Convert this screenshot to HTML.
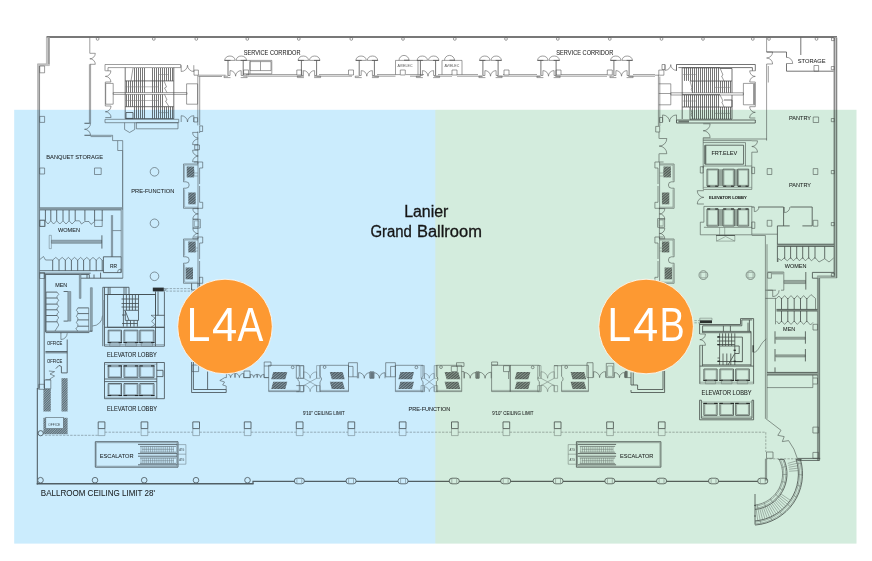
<!DOCTYPE html>
<html lang="en">
<head>
<meta charset="utf-8">
<title>Lanier Grand Ballroom Floor Plan</title>
<style>
html,body{margin:0;padding:0;background:#fff;}
body{width:872px;height:561px;overflow:hidden;position:relative;font-family:"Liberation Sans",sans-serif;}
svg{position:absolute;left:0;top:0;display:block;}
.t{fill:none;stroke:#5c5c5c;stroke-width:.6;}
.l{fill:none;stroke:#7c7c7c;stroke-width:.5;}
.m{fill:none;stroke:#505050;stroke-width:.8;}
.k{fill:none;stroke:#787878;stroke-width:2;}
.w{fill:#c4c4c4;stroke:#9a9a9a;stroke-width:.5;}
.d{fill:none;stroke:#808080;stroke-width:.55;stroke-dasharray:2.4 1.2;}
.h{fill:#808080;stroke:none;}
.g{fill:#b4b4b4;stroke:none;}
.tr{fill:none;stroke:#484848;stroke-width:.75;}
.wd{fill:none;stroke:#5a5a5a;stroke-width:1;}
.wb{fill:none;stroke:#666;stroke-width:1.6;}
.wc{fill:none;stroke:#666;stroke-width:1.3;}
.h2{fill:url(#ht2);stroke:none;}
.kk{fill:none;stroke:#2a2a2a;stroke-width:1.1;}
.bd{font-weight:bold;}
.b{fill:#333;stroke:none;}
.hp{fill:url(#ht);stroke:none;}
.tiny{font-family:"Liberation Sans",sans-serif;fill:#555;}
.lb{font-family:"Liberation Sans",sans-serif;fill:#262626;stroke:#262626;stroke-width:.06;}
.ov{mix-blend-mode:multiply;}
.big{font-family:"Liberation Sans",sans-serif;fill:#161616;stroke:#161616;stroke-width:.3;font-size:15.6px;}
.zone{font-family:"Liberation Sans",sans-serif;fill:#fff;}
</style>
</head>
<body>
<svg width="872" height="561" viewBox="0 0 872 561">
<rect x="0" y="0" width="872" height="561" fill="#fff"/>
<defs>
<pattern id="ht" width="2" height="2" patternUnits="userSpaceOnUse" patternTransform="rotate(-40)">
<rect x="0" y="0" width="2" height="2" fill="#a2a2a2"/>
<rect x="0" y="0" width="2" height=".95" fill="#5c5c5c"/>
</pattern>
<pattern id="ht2" width="1.7" height="1.7" patternUnits="userSpaceOnUse" patternTransform="rotate(-45)">
<rect x="0" y="0" width="1.7" height="1.7" fill="#b4b4b4"/>
<rect x="0" y="0" width="1.7" height=".8" fill="#707070"/>
</pattern>
</defs>
<g id="plan">
<path class="k" d="M46.5 37L837 37"/>
<path class="w" d="M46.4 37.5H49.4V65.6H39.6V389H37.5V63.8H46.4Z"/>
<path class="t" d="M48.9 38L48.9 64"/>
<path class="t" d="M39.3 66L39.3 388"/>
<path class="wd" d="M37.3 388L37.3 484.5"/>
<path class="wb" d="M36.7 483.8L253.6 483.8"/>
<path class="wc" d="M253 483.8V481.3H767"/>
<path class="w" d="M833.8 37.5H837V278H819.6V460.4H817.4V275.8H833.8Z"/>
<path class="t" d="M834.4 38L834.4 275"/>
<path class="t" d="M836.6 38L836.6 278"/>
<path class="t" d="M818 278L818 460"/>
<path class="t" d="M819.6 278L819.6 460"/>
<circle class="t" cx="97.6" cy="38.9" r="1.4"/>
<circle class="t" cx="153.8" cy="38.9" r="1.4"/>
<circle class="t" cx="196.3" cy="38.9" r="1.4"/>
<circle class="t" cx="247.3" cy="38.9" r="1.4"/>
<circle class="t" cx="298.8" cy="38.9" r="1.4"/>
<circle class="t" cx="351.3" cy="38.9" r="1.4"/>
<circle class="t" cx="403" cy="38.9" r="1.4"/>
<circle class="t" cx="454.8" cy="38.9" r="1.4"/>
<circle class="t" cx="506" cy="38.9" r="1.4"/>
<circle class="t" cx="557.8" cy="38.9" r="1.4"/>
<circle class="t" cx="609.8" cy="38.9" r="1.4"/>
<circle class="t" cx="661.5" cy="38.9" r="1.4"/>
<circle class="t" cx="703" cy="38.9" r="1.4"/>
<circle class="t" cx="752.8" cy="38.9" r="1.4"/>
<circle class="t" cx="769" cy="38.9" r="1.4"/>
<circle class="t" cx="816.5" cy="38.9" r="1.4"/>
<path class="t" d="M831.5 37.8H834.3V40.6H831.5Z"/>
<path class="t" d="M39.7 116.4H44.6V122.4H39.7Z"/>
<path class="t" d="M39.7 168H44.6V174H39.7Z"/>
<path class="t" d="M39.7 220.3H44.6V226.3H39.7Z"/>
<path class="t" d="M39.7 272.5H44.6V278.5H39.7Z"/>
<path class="t" d="M39.7 66H44.6V72.8H39.7Z"/>
<path class="t" d="M831.3 66.5H834.3V69.7H831.3Z"/>
<path class="t" d="M831.3 118.5H834.3V121.7H831.3Z"/>
<path class="t" d="M831.3 170.5H834.3V173.7H831.3Z"/>
<path class="t" d="M831.3 222.5H834.3V225.7H831.3Z"/>
<path class="t" d="M89.8 37.5V53.3"/>
<path class="t" d="M89.8 53.3h5.5A5.5 5.5 0 0 1 89.8 58.8A5.5 5.5 0 0 1 95.3 64.3H89.8"/>
<path class="t" d="M89.4 64.3V123.3H84.5M90.6 64.3V123.3"/>
<path class="t" d="M84.5 123.3h6.000000000000007A6.000000000000007 6.000000000000007 0 0 1 84.5 129.3A6.000000000000007 6.000000000000007 0 0 1 90.5 135.3H84.5"/>
<path class="t" d="M84.5 135.3H112.6V140.6H117.7M90.6 136.6H111.6"/>
<path class="t" d="M117.7 140.6H122.7V150.5H117.7Z"/>
<path class="m" d="M122.7 150.5V207.5"/>
<path class="t" d="M105.0 70.8V64.5H180.7V67.6H108.0V70.8"/>
<path class="t" d="M105.0 119.3H178.7V122.7H105.0Z"/>
<path class="t" d="M136.4 122.7H178.0V128.8H136.4Z"/>
<path class="t" d="M124.6 122.7V129.5L129.6 132.5L134.7 129.5V122.7"/>
<path class="t" d="M105.7 83.4H113.2V104.2H105.7Z"/>
<path class="t" d="M113.2 92.6H187.0V94.4H113.2Z"/>
<path class="t" d="M186.6 83.8H197.6V104.2H186.6Z"/>
<path class="m" d="M125.2 67.6V118.8M173.8 67.6V118.8M125.2 80.9H173.8M125.2 106.7H173.8M125.2 118.6H173.8"/>
<path class="tr" d="M134.5 68V80.9M136.5 68V80.9M138.5 68V80.9M140.5 68V80.9M142.5 68V80.9M144.5 68V80.9M152.5 68V80.9M154.5 68V80.9M156.5 68V80.9M158.5 68V80.9M160.5 68V80.9M162.5 68V80.9M164.5 68V80.9M166.5 68V80.9M168.5 68V80.9M170.5 68V80.9M172.5 68V80.9M126.5 80.9V92.6M128.5 80.9V92.6M130.5 80.9V92.6M132.5 80.9V92.6M134.5 80.9V92.6M136.5 80.9V92.6M138.5 80.9V92.6M140.5 80.9V92.6M142.5 80.9V92.6M144.5 80.9V92.6M152.5 80.9V92.6M154.5 80.9V92.6M156.5 80.9V92.6M158.5 80.9V92.6M160.5 80.9V92.6M162.5 80.9V92.6M126.5 94.4V106.7M128.5 94.4V106.7M130.5 94.4V106.7M132.5 94.4V106.7M134.5 94.4V106.7M136.5 94.4V106.7M138.5 94.4V106.7M140.5 94.4V106.7M142.5 94.4V106.7M144.5 94.4V106.7M152.5 94.4V106.7M154.5 94.4V106.7M156.5 94.4V106.7M158.5 94.4V106.7M160.5 94.4V106.7M162.5 94.4V106.7M134.5 106.7V118.6M136.5 106.7V118.6M138.5 106.7V118.6M140.5 106.7V118.6M142.5 106.7V118.6M144.5 106.7V118.6M152.5 106.7V118.6M154.5 106.7V118.6M156.5 106.7V118.6M158.5 106.7V118.6M160.5 106.7V118.6M162.5 106.7V118.6M164.5 106.7V118.6M166.5 106.7V118.6M168.5 106.7V118.6M170.5 106.7V118.6M172.5 106.7V118.6"/>
<path class="l" d="M159.0 74.5H168.0M125.2 86.8H158.0M125.2 100.5H158.0M159.0 112.6H168.0"/>
<path class="t" d="M133.0 68L131.0 80.9M164.0 80.9L166.5 87L164.5 88L167.0 92.6M164.5 94.4L167.0 100L165.5 101L169.0 106.7"/>
<path class="m" d="M126.0 112.5H133.0V118.4H126.0Z"/>
<path class="t" d="M105.3 70.8h5.600000000000001A5.600000000000001 5.600000000000001 0 0 1 105.3 76.4A5.600000000000001 5.600000000000001 0 0 1 110.9 82H105.3"/>
<path class="t" d="M105.3 106h5.75A5.75 5.75 0 0 1 105.3 111.75A5.75 5.75 0 0 1 111.05 117.5H105.3"/>
<path class="t" d="M105.3 82L105.3 106"/>
<path class="t" d="M181.2 65.2v6.300000000000011A6.300000000000011 6.300000000000011 0 0 0 187.5 65.2A6.300000000000011 6.300000000000011 0 0 0 193.8 71.50000000000001V65.2"/>
<path class="t" d="M194 70.1H198.4V75.2H194Z"/>
<path class="t" d="M181.2 122v-6.300000000000011A6.300000000000011 6.300000000000011 0 0 1 187.5 122A6.300000000000011 6.300000000000011 0 0 1 193.8 115.69999999999999V122"/>
<path class="t" d="M193.8 117.7H197.6V122H193.8Z"/>
<path class="t" d="M197.8 75.2V125.4M199.7 76.6V125.4"/>
<path class="t" d="M199.7 125.9H202.6V131.5H199.7Z"/>
<path class="t" d="M198.4 75.2H225.6M198.4 76.5H222M246 74.6H296.8M248 76.2H304M314 76.2H352M319 74.6H348M372 76.2H395.5M377 74.6H400M406 74.6H424M410 76.2H421M434 76.2H452M438 74.6H452M457 74.6H478M457 76.2H482M497 76.2H540M503 74.6H504M509 74.6H537M555 76.2H607M561 74.6H607M628 76.2H655M633 74.6H655"/>
<path class="t" d="M655 75.2H659"/>
<path class="t" d="M243.6 70H248.6V75H243.6Z"/>
<path class="t" d="M296.8 70H301.8V75H296.8Z"/>
<path class="t" d="M348.5 70H353.5V75H348.5Z"/>
<path class="t" d="M400.3 70H405.3V75H400.3Z"/>
<path class="t" d="M452 70H457V75H452Z"/>
<path class="t" d="M504 70H509V75H504Z"/>
<path class="t" d="M556 70H561V75H556Z"/>
<path class="t" d="M607.3 70H612.3V75H607.3Z"/>
<path class="m" d="M228.0 60.4V75.5M243.2 60.4V75.5"/>
<path class="t" d="M224.6 60.4A5.4 5.4 0 0 1 235.2 60.4ZM236.0 60.4A5.4 5.4 0 0 1 246.6 60.4Z"/>
<path class="m" d="M224.6 60.4H230.5M240.7 60.4H246.6"/>
<path class="t" d="M228.0 75.5H230.0V70.6A5.6 5.6 0 0 1 235.6 76.2A5.6 5.6 0 0 1 241.2 70.6V75.5H243.2"/>
<path class="t" d="M224.0 76.2H228.0M243.2 76.2H247.2M224.0 76.2V77.6H230.5M240.7 77.6H247.2V76.2"/>
<path class="m" d="M301.4 60.4V75.5M316.6 60.4V75.5"/>
<path class="t" d="M298.0 60.4A5.4 5.4 0 0 1 308.59999999999997 60.4ZM309.40000000000003 60.4A5.4 5.4 0 0 1 320.0 60.4Z"/>
<path class="m" d="M298.0 60.4H303.9M314.1 60.4H320.0"/>
<path class="t" d="M301.4 75.5H303.4V70.6A5.6 5.6 0 0 1 309 76.2A5.6 5.6 0 0 1 314.6 70.6V75.5H316.6"/>
<path class="t" d="M297.4 76.2H301.4M316.6 76.2H320.6M297.4 76.2V77.6H303.9M314.1 77.6H320.6V76.2"/>
<path class="m" d="M359.2 60.4V75.5M374.40000000000003 60.4V75.5"/>
<path class="t" d="M355.8 60.4A5.4 5.4 0 0 1 366.4 60.4ZM367.20000000000005 60.4A5.4 5.4 0 0 1 377.8 60.4Z"/>
<path class="m" d="M355.8 60.4H361.7M371.90000000000003 60.4H377.8"/>
<path class="t" d="M359.2 75.5H361.2V70.6A5.6 5.6 0 0 1 366.8 76.2A5.6 5.6 0 0 1 372.40000000000003 70.6V75.5H374.40000000000003"/>
<path class="t" d="M355.2 76.2H359.2M374.40000000000003 76.2H378.40000000000003M355.2 76.2V77.6H361.7M371.90000000000003 77.6H378.40000000000003V76.2"/>
<path class="m" d="M420.4 60.4V75.5M435.6 60.4V75.5"/>
<path class="t" d="M417.0 60.4A5.4 5.4 0 0 1 427.59999999999997 60.4ZM428.40000000000003 60.4A5.4 5.4 0 0 1 439.0 60.4Z"/>
<path class="m" d="M417.0 60.4H422.9M433.1 60.4H439.0"/>
<path class="t" d="M420.4 75.5H422.4V70.6A5.6 5.6 0 0 1 428 76.2A5.6 5.6 0 0 1 433.6 70.6V75.5H435.6"/>
<path class="t" d="M416.4 76.2H420.4M435.6 76.2H439.6M416.4 76.2V77.6H422.9M433.1 77.6H439.6V76.2"/>
<path class="m" d="M482.9 60.4V75.5M498.1 60.4V75.5"/>
<path class="t" d="M479.5 60.4A5.4 5.4 0 0 1 490.09999999999997 60.4ZM490.90000000000003 60.4A5.4 5.4 0 0 1 501.5 60.4Z"/>
<path class="m" d="M479.5 60.4H485.4M495.6 60.4H501.5"/>
<path class="t" d="M482.9 75.5H484.9V70.6A5.6 5.6 0 0 1 490.5 76.2A5.6 5.6 0 0 1 496.1 70.6V75.5H498.1"/>
<path class="t" d="M478.9 76.2H482.9M498.1 76.2H502.1M478.9 76.2V77.6H485.4M495.6 77.6H502.1V76.2"/>
<path class="m" d="M540.9 60.4V75.5M556.1 60.4V75.5"/>
<path class="t" d="M537.5 60.4A5.4 5.4 0 0 1 548.1 60.4ZM548.9 60.4A5.4 5.4 0 0 1 559.5 60.4Z"/>
<path class="m" d="M537.5 60.4H543.4M553.6 60.4H559.5"/>
<path class="t" d="M540.9 75.5H542.9V70.6A5.6 5.6 0 0 1 548.5 76.2A5.6 5.6 0 0 1 554.1 70.6V75.5H556.1"/>
<path class="t" d="M536.9 76.2H540.9M556.1 76.2H560.1M536.9 76.2V77.6H543.4M553.6 77.6H560.1V76.2"/>
<path class="m" d="M613.9 60.4V75.5M629.1 60.4V75.5"/>
<path class="t" d="M610.5 60.4A5.4 5.4 0 0 1 621.1 60.4ZM621.9 60.4A5.4 5.4 0 0 1 632.5 60.4Z"/>
<path class="m" d="M610.5 60.4H616.4M626.6 60.4H632.5"/>
<path class="t" d="M613.9 75.5H615.9V70.6A5.6 5.6 0 0 1 621.5 76.2A5.6 5.6 0 0 1 627.1 70.6V75.5H629.1"/>
<path class="t" d="M609.9 76.2H613.9M629.1 76.2H633.1M609.9 76.2V77.6H616.4M626.6 77.6H633.1V76.2"/>
<path class="t" d="M243.4 60.4H271.8V73.8H243.4"/>
<path class="t" d="M250 61.6H271V70.6H250ZM260.5 61.6V70.6M250 73.8V60.4"/>
<path class="t" d="M395.5 74.6V60.4H418V74.6"/>
<path class="t" d="M399 60.4A5 5 0 0 1 409 60.4"/>
<path class="m" d="M404 60.2L409.4 60.2"/>
<path class="t" d="M442 74.6V60.4H462V74.6"/>
<path class="t" d="M444.5 60.4A5 5 0 0 1 454.5 60.4"/>
<path class="m" d="M449.5 60.2L455 60.2"/>
<path class="m" d="M676.5 70.8V64.5H755.3V70.8M678.4 67.6H752.4V70.8"/>
<path class="m" d="M676.5 120H755.3V123H676.5Z"/>
<rect class="h" x="678.4" y="120.4" width="10.6" height="2.2"/>
<path class="t" d="M658.8 83.8H670.8V104.8H658.8M658.8 93.5H670.8"/>
<path class="t" d="M670.8 92.8H743.4V95H670.8Z"/>
<path class="t" d="M743.4 83.4H754.7V104.8H743.4Z"/>
<path class="m" d="M753.8 84L753.8 104.4"/>
<path class="m" d="M682.2 67.8H720M682.2 67.8V119M690 81H732V68.5H720M732 81V92.8M682.2 94.6H720M682.2 107H732M690 107V119.6M732 95V107M724 100H732V107M690 119.2H732V107"/>
<path class="tr" d="M684.5 68V80.9M686.5 68V80.9M688.5 68V80.9M690.5 68V80.9M692.5 68V80.9M694.5 68V80.9M696.5 68V80.9M698.5 68V80.9M700.5 68V80.9M702.5 68V80.9M704.5 68V80.9M706.5 68V80.9M708.5 68V80.9M710.5 68V80.9M712.5 68V80.9M714.5 68V80.9M716.5 68V80.9M718.5 68V80.9M692.5 81V92.8M694.5 81V92.8M696.5 81V92.8M698.5 81V92.8M700.5 81V92.8M702.5 81V92.8M704.5 81V92.8M706.5 81V92.8M708.5 81V92.8M710.5 81V92.8M712.5 81V92.8M714.5 81V92.8M716.5 81V92.8M718.5 81V92.8M720.5 81V92.8M722.5 81V92.8M724.5 81V92.8M726.5 81V92.8M728.5 81V92.8M730.5 81V92.8M684.5 95V107M686.5 95V107M688.5 95V107M690.5 95V107M692.5 95V107M694.5 95V107M696.5 95V107M698.5 95V107M700.5 95V107M702.5 95V107M704.5 95V107M706.5 95V107M708.5 95V107M710.5 95V107M712.5 95V107M714.5 95V107M716.5 95V107M718.5 95V107M692.5 107V119M694.5 107V119M696.5 107V119M698.5 107V119M700.5 107V119M702.5 107V119M704.5 107V119M706.5 107V119M708.5 107V119M710.5 107V119M712.5 107V119M714.5 107V119M716.5 107V119M718.5 107V119M720.5 107V119M722.5 107V119M724.5 107V119M726.5 107V119M728.5 107V119M730.5 107V119"/>
<path class="l" d="M683 74.5H697M715 87.4H731M683 101H697M715 113.4H731"/>
<path class="t" d="M720 68L723 75L721.6 76L724 81M690 81L692 88L691 89L693 92.8M720 95L723 101L721.8 102L724 107M690 107L692 113L691 114L693 119"/>
<path class="t" d="M755.3 70.8h-5.600000000000001A5.600000000000001 5.600000000000001 0 0 0 755.3 76.4A5.600000000000001 5.600000000000001 0 0 0 749.6999999999999 82H755.3"/>
<path class="t" d="M755.3 106.7h-5.649999999999999A5.649999999999999 5.649999999999999 0 0 0 755.3 112.35A5.649999999999999 5.649999999999999 0 0 0 749.65 118H755.3"/>
<path class="t" d="M755.3 82L755.3 106.7"/>
<path class="t" d="M665 64.6v5.75A5.75 5.75 0 0 0 670.75 64.6A5.75 5.75 0 0 0 676.5 70.35V64.6"/>
<path class="t" d="M662 64.5H665V69.5H662Z"/>
<path class="t" d="M658.8 70.1H663.9V75.2H658.8Z"/>
<path class="t" d="M662.6 121.9v-6.949999999999989A6.949999999999989 6.949999999999989 0 0 1 669.55 121.9A6.949999999999989 6.949999999999989 0 0 1 676.5 114.95000000000002V121.9"/>
<path class="t" d="M659.5 117.5H662.6V122.5H659.5Z"/>
<path class="t" d="M658.4 75.2V126M659.8 76.5V126"/>
<path class="t" d="M703.2 123.8h6.949999999999996A6.949999999999996 6.949999999999996 0 0 1 703.2 130.75A6.949999999999996 6.949999999999996 0 0 1 710.1500000000001 137.7H703.2"/>
<path class="t" d="M703.2 139H767M703.2 140.6H751.8M703.2 137.7V168"/>
<path class="t" d="M766.6 37.5V52"/>
<path class="t" d="M766.6 52h6.0A6.0 6.0 0 0 1 766.6 58.0A6.0 6.0 0 0 1 772.6 64H766.6"/>
<path class="t" d="M766.6 64V140.6M768.3 66V82.5"/>
<path class="m" d="M766.6 52H786.5V57.5M786.5 63.5V71.2H833.6M800.8 37.5V55"/>
<path class="t" d="M786.5 63.5h6.2A6.2 6.2 0 0 0 786.5 57.3"/>
<path class="t" d="M814 65.5H818.6V71.2H814Z"/>
<path class="t" d="M813.2 117H818.6V122.5H813.2Z"/>
<path class="m" d="M705.1 145.2H743.6V164.2H705.1Z"/>
<path class="k" d="M705.3 145.2L705.3 164.2"/>
<path class="t" d="M703.2 142.6H745.5V166M751.8 152.2V166"/>
<path class="t" d="M751.8 140.8h5.699999999999989A5.699999999999989 5.699999999999989 0 0 1 751.8 146.5A5.699999999999989 5.699999999999989 0 0 1 757.5 152.2H751.8"/>
<path class="t" d="M703.2 166H751.8V189.4H703.2Z"/>
<rect class="g" x="718.4" y="169.2" width="4.6" height="17.0"/>
<rect class="g" x="734.2" y="169.2" width="3.5" height="17.0"/>
<path class="m" d="M707 169.2H718.4V186.2H707Z"/>
<path class="l" d="M707.9 170.1H717.5V185.29999999999998H707.9Z"/>
<path class="kk" d="M707.3 186.2L710.2 186.2"/>
<path class="kk" d="M715.1999999999999 186.2L718.1 186.2"/>
<path class="m" d="M723 169.2H734.2V186.2H723Z"/>
<path class="l" d="M723.9 170.1H733.3000000000001V185.29999999999998H723.9Z"/>
<path class="kk" d="M723.3 186.2L726.2 186.2"/>
<path class="kk" d="M731.0 186.2L733.9000000000001 186.2"/>
<path class="m" d="M737.7 169.2H748.7V186.2H737.7Z"/>
<path class="l" d="M738.6 170.1H747.8000000000001V185.29999999999998H738.6Z"/>
<path class="kk" d="M738.0 186.2L740.9000000000001 186.2"/>
<path class="kk" d="M745.5 186.2L748.4000000000001 186.2"/>
<path class="t" d="M700.3 166.7H703.2V173H700.3Z"/>
<path class="t" d="M751.8 167.2H754.6V173.6H751.8Z"/>
<path class="l" d="M703.2 187.4L751.8 187.4"/>
<path class="t" d="M703.9 190.7h-6.650000000000006A6.650000000000006 6.650000000000006 0 0 0 703.9 197.35A6.650000000000006 6.650000000000006 0 0 0 697.25 204H703.9"/>
<path class="t" d="M703.9 206.4H751.8V234.8H700.3V222.2H703.9Z"/>
<rect class="g" x="718.4" y="209" width="4.6" height="17"/>
<rect class="g" x="734.2" y="209" width="3.5" height="17"/>
<path class="m" d="M707 209H718.4V226H707Z"/>
<path class="l" d="M707.9 209.9H717.5V225.1H707.9Z"/>
<path class="kk" d="M707.3 209L710.2 209"/>
<path class="kk" d="M715.1999999999999 209L718.1 209"/>
<path class="m" d="M723 209H734.2V226H723Z"/>
<path class="l" d="M723.9 209.9H733.3000000000001V225.1H723.9Z"/>
<path class="kk" d="M723.3 209L726.2 209"/>
<path class="kk" d="M731.0 209L733.9000000000001 209"/>
<path class="m" d="M737.7 209H748.7V226H737.7Z"/>
<path class="l" d="M738.6 209.9H747.8000000000001V225.1H738.6Z"/>
<path class="kk" d="M738.0 209L740.9000000000001 209"/>
<path class="kk" d="M745.5 209L748.4000000000001 209"/>
<path class="t" d="M703.9 227.3L751.8 227.3"/>
<path class="t" d="M751.8 222H754.8V228.4H751.8Z"/>
<path class="l" d="M719.6 227.3V235.5M724.7 227.3V235.5M716.5 235.5H734.8V241.1H716.5ZM716.5 241.1L725.6 236.5L734.8 241.1"/>
<path class="m" d="M716 235.5L735 235.5"/>
<path class="t" d="M767.2 168.6H771.8000000000001V174.5H767.2Z"/>
<path class="t" d="M813.2 168.6H817.8000000000001V174.5H813.2Z"/>
<path class="t" d="M767.2 220.3H771.8000000000001V226.20000000000002H767.2Z"/>
<path class="t" d="M813.2 220.3H817.8000000000001V226.20000000000002H813.2Z"/>
<path class="m" d="M751.8 207H754.3M758.2 207H783.6V225.9M777.4 225.9H789.7M790.4 207H812.2V225.9H802.4M777.4 225.9V262"/>
<path class="t" d="M754.3 207v4.6A4.6 4.6 0 0 0 758.9 207"/>
<path class="t" d="M784.3 207v5.6A5.6 5.6 0 0 0 789.9 207"/>
<path class="t" d="M751.8 234.2H777.4M751.8 235.5H765.4"/>
<path class="t" d="M765.4 235.5V418.8M767 244.2V418.8"/>
<rect class="g" x="777.4" y="244.2" width="56.6" height="2.2"/>
<path class="m" d="M777.4 244.2L834 244.2"/>
<path class="m" d="M777.4 246.4L834 246.4"/>
<path class="m" d="M784.7 246.4V258.7M790.6 246.4V258.7M796.7 246.4V258.7M802.7 246.4V258.7M808.7 246.4V258.7M815 246.4V258.7M824.7 246.4V258.7"/>
<path class="t" d="M778 262V258.5L781.4 260.5L784.7 257.5V258.7L787.4 260.8L790.6 257.5L793.4 260.8L796.7 257.5L799.4 260.8L802.7 257.5L805.4 260.8L808.7 257.5L811.4 260.8L815 257.5L819 262L824.7 258.7L829 262L833.6 258"/>
<path class="t" d="M767.7 272H783.8V290.2H781M772.7 290.2H767.7"/>
<rect class="g" x="772" y="272" width="11.4" height="2.4"/>
<path class="t" d="M767.7 272.6H771.4V278.2H767.7Z"/>
<path class="t" d="M772.7 290.2v6.4A6.4 6.4 0 0 0 779.1 290.2"/>
<rect class="g" x="784" y="280.4" width="21.5" height="3.2"/>
<path class="l" d="M784 280.4H805.5V283.6H784Z"/>
<path class="m" d="M805.8 272L805.8 289.6"/>
<path class="m" d="M812.4 272.4H834M812.4 272.4V278.2H817.5"/>
<path class="t" d="M831.4 273.4H834.5V276.4H831.4Z"/>
<path class="t" d="M765.4 290.2H776M765.4 298.4H776.5M775.5 298.4V324.3"/>
<rect class="g" x="776.5" y="309.4" width="41.0" height="1.6"/>
<path class="m" d="M776.5 309.4H817.5M776.5 311H817.5"/>
<path class="m" d="M781.5 298V309.4M781.5 311V322M787.8 298V309.4M787.8 311V322M794.2 298V309.4M794.2 311V322M800.5 298V309.4M800.5 311V322M806.8 298V309.4M806.8 311V322"/>
<path class="t" d="M776.5 298.4L779 296L781.5 299L784.6 295.6L787.8 299L791 295.6L794.2 299L797.3 295.6L800.5 299L803.6 295.6L806.8 299L811 294.6L815.5 298.4V309.4"/>
<path class="t" d="M776.5 321L779 324L781.5 321L784.6 324.4L787.8 321L791 324.4L794.2 321L797.3 324.4L800.5 321L803.6 324.4L806.8 321L810.5 325L813 322.4"/>
<path class="t" d="M813 324.3H817.6V330H813Z"/>
<rect class="g" x="775.8" y="337.1" width="29.4" height="2.2"/>
<path class="l" d="M775.8 337.1H805.2V339.3H775.8Z"/>
<path class="m" d="M775 331.3L775 343.70000000000005"/>
<path class="m" d="M805.4 331.3L805.4 343.70000000000005"/>
<rect class="g" x="775.8" y="354.8" width="29.4" height="2.2"/>
<path class="l" d="M775.8 354.8H805.2V357.0H775.8Z"/>
<path class="m" d="M775 349.0L775 361.40000000000003"/>
<path class="m" d="M805.4 349.0L805.4 361.40000000000003"/>
<path class="m" d="M775 367.4L775 372.4"/>
<rect class="g" x="767" y="372.4" width="50.6" height="2.6"/>
<path class="m" d="M767 372.4H817.6M767 375H817.6"/>
<path class="t" d="M767 387.6H812.8V375M813 378H817.5V384H813"/>
<path class="t" d="M94.5 168H101.2V174.5H94.5Z"/>
<circle class="t" cx="154.5" cy="171.8" r="4.3"/>
<circle class="t" cx="154.5" cy="223.3" r="4.3"/>
<circle class="t" cx="154.5" cy="276.3" r="4.3"/>
<rect class="g" x="39.8" y="207.8" width="82.9" height="2.2"/>
<path class="t" d="M39.8 207.8H122.7M39.8 210H121"/>
<path class="t" d="M121.2 210V256.8M122.8 207.5V278.2"/>
<path class="m" d="M45.4 210V220.8M50.8 210V220.8M56.7 210V220.8M63 210V220.8M69.1 210V220.8M75.2 210V220.8M84.9 210V220.8M94.6 210V220.8M102.2 210V220.8"/>
<path class="t" d="M39.8 220.2H45.1V226.5H39.8Z"/>
<path class="t" d="M94.6 220.2H102.2V226.5H94.6Z"/>
<path class="t" d="M45.4 221L48 224L50.8 220.8L53.6 224L56.7 220.8L59.8 224L63 220.8L66 224L69.1 220.8L72 224L75.2 220.8H79.5L81.5 224L84.9 221.5H89L91 224.4L94.6 221.5"/>
<rect class="g" x="51.4" y="240.2" width="50.2" height="3.1"/>
<path class="l" d="M51.4 240.2H101.6V243.3H51.4Z"/>
<path class="l" d="M49.2 235.3H51.4V248.6H49.2Z"/>
<path class="m" d="M101.9 235.3L101.9 248.6"/>
<path class="t" d="M111.4 215.1V256.8M112.6 215.1V256.8M112.6 230.6H121.2"/>
<path class="m" d="M52.7 260V270.7M59 260V270.7M65.3 260V270.7M71.4 260V270.7M77.7 260V270.7M83.6 260V270.7M89.9 260V270.7M96.2 260V270.7M102.2 260V270.7"/>
<path class="t" d="M39.8 259.5L43.5 256.5L45.5 260H52.7L55.8 257.4L59 260.2L62.2 257.4L65.3 260.2L68.4 257.4L71.4 260.2L74.5 257.4L77.7 260.2L80.6 257.4L83.6 260.2L86.8 257.4L89.9 260.2L93 257.4L96.2 260.2L99.2 257.4L102.2 260.2"/>
<path class="m" d="M103.4 256.8H121.2V272.6H103.4Z"/>
<path class="t" d="M121 272.6v-3.6A3.6 3.6 0 0 0 117.4 272.6"/>
<path class="m" d="M39.8 270.7H103.4M39.8 273.2H90.6M45.1 274.5H89.3V278.2M79.8 278.2H122.8M100.6 272.6V278.2M94 274.5V278.2M87 274.5V278.2"/>
<path class="m" d="M44.2 273.2V388M45.6 274.5V332"/>
<rect class="g" x="79.3" y="274.5" width="1.7" height="23.9"/>
<path class="l" d="M79.3 274.5H81V298.4H79.3Z"/>
<path class="m" d="M46.1 292.1H57.1M46.1 298H57.1M46.1 304.1H57.1M46.1 309.8H57.1M46.1 315.5H57.1M46.1 321.8H57.1"/>
<path class="t" d="M46.1 292.1V331.2M57.1 292.1L58.8 294.4L57.1 296.2V298L58.8 300.6L57.1 302.2V304.1L58.8 306.6L57.1 308V309.8L58.8 312.3L57.1 313.8V315.5L58.8 318L57.1 319.6V321.8L58.8 325L55 331"/>
<rect class="g" x="67.8" y="291.5" width="3.0" height="29.6"/>
<path class="l" d="M67.8 291.5H70.8V321.1H67.8Z"/>
<path class="m" d="M63.6 291.5H67.8M63.6 321.1H67.8"/>
<path class="m" d="M77.8 307.9H88.7M77.8 313.6H88.7M77.8 319.9H88.7M77.8 326.2H88.7"/>
<path class="t" d="M88.7 307.9V330.6M77.8 307.9L76.4 310.4L77.8 312V313.6L76.4 316.4L77.8 318V319.9L76.4 322.6L77.8 324.4V326.2L75.8 329L78 331.2"/>
<rect class="g" x="90.4" y="287.7" width="1.9" height="43.5"/>
<path class="l" d="M90.4 287.7H92.3V331.2H90.4Z"/>
<path class="t" d="M92.4 326A10.3 10.3 0 0 0 102.5 315.6"/>
<path class="m" d="M45.6 331.2H92.3M45.6 332.6H89.3"/>
<path class="m" d="M60.9 332.6V333.4M67.2 339.5V372.9H61.4V366.5L59 365.4L55.9 368.6M45.4 351.5H67.2M45.4 352.8H67.2"/>
<path class="t" d="M60.9 333.2v6.3A6.3 6.3 0 0 0 67.2 333.2"/>
<path class="t" d="M48.9 371L54.6 371.6L50 374L54.6 376L49.6 379.2M45.6 379.6H51"/>
<rect class="h2" x="61.5" y="378.2" width="6.1" height="33.3"/>
<rect class="h2" x="43.4" y="388.8" width="7.4" height="22.7"/>
<path class="t" d="M44.5 380H50.8V388.8H44.5Z"/>
<path class="t" d="M38.8 384.3H44.5V389.3H38.8Z"/>
<rect class="h2" x="43.4" y="417.8" width="24.2" height="16.4"/>
<rect x="45.8" y="417.4" width="17.6" height="11.2" fill="#fff" stroke="#6e6e6e" stroke-width=".6"/>
<circle class="m" cx="40.7" cy="433.2" r="2.6"/>
<path class="m" d="M102.8 287.3V346.2M104.5 287.3V346.2M102.8 287.3H129V294.5M108.2 287.3V294.5M110 287.3V294.5M124 287.3V294.5M126 287.3V294.5"/>
<rect class="g" x="102.6" y="300" width="1.4" height="25"/>
<path class="m" d="M107.6 294.5H155.5V327.3H107.6Z"/>
<path class="m" d="M104.5 294.5L155.5 294.5"/>
<path class="m" d="M123.4 295V310.3M126.4 295V310.3M129.4 295V310.3M132.4 295V310.3M135.4 295V310.3M138.5 295V310.3M121.5 299H138.5M121.5 303.5H138.5M121.5 307H138.5"/>
<path class="m" d="M123.4 310.3H138.5V320.4H125.3V311M123.4 310.3V326.7M127 320.4V326.7M130.5 320.4V326.7M134 320.4V326.7M137.4 320.4V326.7M122 315H125.3M122 323.5H137.4M125.3 311L129 320.4"/>
<rect class="b" x="152.8" y="287.6" width="11.0" height="3.8"/>
<circle class="t" cx="164.9" cy="289.5" r="1"/>
<path class="d" d="M166 288.6H192.1M166 291.1H192.1"/>
<path class="m" d="M155.5 291.4V315.3M158 291.4V315.3M164.4 291.4V346.2M155.5 315.3H164.4M155.5 327.3H164.4"/>
<path class="t" d="M155.5 315.3H151L155 318L151.6 321.3L155 324.6L151 327.3"/>
<path class="m" d="M104.5 327.3H164.4M104.5 346.2H164.4M155.5 327.3V346.2"/>
<path class="m" d="M108.2 330.2H121.5V342.6H108.2Z"/>
<path class="l" d="M109.10000000000001 331.09999999999997H120.6V341.70000000000005H109.10000000000001Z"/>
<path class="kk" d="M107.60000000000001 342.6L111.2 342.6"/>
<path class="kk" d="M118.5 342.6L122.1 342.6"/>
<path class="l" d="M109.7 343.2H120.0V346.2H109.7Z"/>
<path class="m" d="M124 330.2H137.9V342.6H124Z"/>
<path class="l" d="M124.9 331.09999999999997H137.0V341.70000000000005H124.9Z"/>
<path class="kk" d="M123.4 342.6L127 342.6"/>
<path class="kk" d="M134.9 342.6L138.5 342.6"/>
<path class="l" d="M125.5 343.2H136.4V346.2H125.5Z"/>
<path class="m" d="M139.8 330.2H154V342.6H139.8Z"/>
<path class="l" d="M140.70000000000002 331.09999999999997H153.1V341.70000000000005H140.70000000000002Z"/>
<path class="kk" d="M139.20000000000002 342.6L142.8 342.6"/>
<path class="kk" d="M151 342.6L154.6 342.6"/>
<path class="l" d="M141.3 343.2H152.5V346.2H141.3Z"/>
<path class="l" d="M104.5 344.6L164.4 344.6"/>
<path class="m" d="M104.5 362.5H164.4V398.7H104.5Z"/>
<path class="m" d="M108.2 365.9H121.5V377.6H108.2Z"/>
<path class="l" d="M109.10000000000001 366.79999999999995H120.6V376.70000000000005H109.10000000000001Z"/>
<path class="kk" d="M107.60000000000001 365.9L111.2 365.9"/>
<path class="kk" d="M118.5 365.9L122.1 365.9"/>
<path class="m" d="M108.2 383.5H121.5V395.5H108.2Z"/>
<path class="l" d="M109.10000000000001 384.4H120.6V394.6H109.10000000000001Z"/>
<path class="kk" d="M107.60000000000001 395.5L111.2 395.5"/>
<path class="kk" d="M118.5 395.5L122.1 395.5"/>
<path class="m" d="M124 365.9H137.9V377.6H124Z"/>
<path class="l" d="M124.9 366.79999999999995H137.0V376.70000000000005H124.9Z"/>
<path class="kk" d="M123.4 365.9L127 365.9"/>
<path class="kk" d="M134.9 365.9L138.5 365.9"/>
<path class="m" d="M124 383.5H137.9V395.5H124Z"/>
<path class="l" d="M124.9 384.4H137.0V394.6H124.9Z"/>
<path class="kk" d="M123.4 395.5L127 395.5"/>
<path class="kk" d="M134.9 395.5L138.5 395.5"/>
<path class="m" d="M139.8 365.9H154V377.6H139.8Z"/>
<path class="l" d="M140.70000000000002 366.79999999999995H153.1V376.70000000000005H140.70000000000002Z"/>
<path class="kk" d="M139.20000000000002 365.9L142.8 365.9"/>
<path class="kk" d="M151 365.9L154.6 365.9"/>
<path class="m" d="M139.8 383.5H154V395.5H139.8Z"/>
<path class="l" d="M140.70000000000002 384.4H153.1V394.6H140.70000000000002Z"/>
<path class="kk" d="M139.20000000000002 395.5L142.8 395.5"/>
<path class="kk" d="M151 395.5L154.6 395.5"/>
<path class="m" d="M104.5 379H156.8M104.5 381.6H156.8M156.8 362.5V398.7M156.8 370.3H163V376.6H156.8"/>
<path class="l" d="M104.5 364.2L156.8 364.2"/>
<path class="l" d="M104.5 397.2L156.8 397.2"/>
<rect class="b" x="699.8" y="320.3" width="12.2" height="2.9"/>
<path class="l" d="M699.8 318.2H712V320.3H699.8Z"/>
<path class="d" d="M694.4 320.6H699.8M694.4 322.8H699.8"/>
<path class="m" d="M699.6 323.2V334M702.6 325.8V332.7M699.6 324.5H740.5V318.6H753.6V383.8M702.6 325.8H741.8V319.9H752.2M748 322.6V331.4M749.4 319.9V331.4M723.4 325.8V331.4M730.4 325.8V331.4"/>
<path class="t" d="M699.8 334h5.650000000000006A5.650000000000006 5.650000000000006 0 0 1 699.8 339.65A5.650000000000006 5.650000000000006 0 0 1 705.4499999999999 345.3H699.8"/>
<path class="m" d="M699.8 345.3V383.8M702.4 345.3V366.1M702.4 331.4H751M702.4 332.7H751M751 331.4V366.1M702.4 364.9H751M699.8 366.1H753.6"/>
<path class="m" d="M719.6 333.3V346M722.6 333.3V346M725.6 333.3V346M728.6 333.3V346M731.6 333.3V346M734.8 333.3V346M717 337.1H734.8M717 341H734.8M717 344.5H734.8"/>
<path class="m" d="M734.8 337.1H742.4V361.7H734.8M719.6 346H739.2V353.5H734.8M719.6 346V365M734.8 346V365M723 353.5V365M726.8 353.5V365M730.8 353.5V365M717.5 358H719.6M717.5 361.5H742.4M734.8 353.5L728 365"/>
<rect class="b" x="717.5" y="336.2" width="2.3" height="1.4"/>
<rect class="b" x="717.5" y="344" width="2.3" height="1.4"/>
<rect class="b" x="717.5" y="360.6" width="2.3" height="1.4"/>
<rect class="b" x="733.6" y="349.6" width="2.2" height="1.4"/>
<rect class="b" x="733.6" y="360.6" width="2.2" height="1.4"/>
<path class="m" d="M703.9 369H717.1V380.4H703.9Z"/>
<path class="l" d="M704.8 369.9H716.2V379.5H704.8Z"/>
<path class="kk" d="M703.3 380.4L706.9 380.4"/>
<path class="kk" d="M714.1 380.4L717.7 380.4"/>
<path class="l" d="M705.4 381H715.6V383.8H705.4Z"/>
<path class="m" d="M719.9 369H733.5V380.4H719.9Z"/>
<path class="l" d="M720.8 369.9H732.6V379.5H720.8Z"/>
<path class="kk" d="M719.3 380.4L722.9 380.4"/>
<path class="kk" d="M730.5 380.4L734.1 380.4"/>
<path class="l" d="M721.4 381H732.0V383.8H721.4Z"/>
<path class="m" d="M735.7 369H749.3V380.4H735.7Z"/>
<path class="l" d="M736.6 369.9H748.4V379.5H736.6Z"/>
<path class="kk" d="M735.1 380.4L738.7 380.4"/>
<path class="kk" d="M746.3 380.4L749.9 380.4"/>
<path class="l" d="M737.2 381H747.8V383.8H737.2Z"/>
<path class="l" d="M699.8 383.8H753.6M699.8 382.2H753.6"/>
<path class="kk" d="M753.1 345.3L753.1 352.3"/>
<path class="t" d="M753.7 352.4C759 352 760 343 766.3 339"/>
<path class="m" d="M699.6 400.2V419.8H753.6V400.2M701.4 400.2V418.2H752V400.2M699.6 400.2H701.4M752 400.2H753.6"/>
<path class="m" d="M703.9 403.4H717.1V415.4H703.9Z"/>
<path class="l" d="M704.8 404.29999999999995H716.2V414.5H704.8Z"/>
<path class="kk" d="M703.3 403.4L706.9 403.4"/>
<path class="kk" d="M714.1 403.4L717.7 403.4"/>
<path class="m" d="M719.9 403.4H733.5V415.4H719.9Z"/>
<path class="l" d="M720.8 404.29999999999995H732.6V414.5H720.8Z"/>
<path class="kk" d="M719.3 403.4L722.9 403.4"/>
<path class="kk" d="M730.5 403.4L734.1 403.4"/>
<path class="m" d="M735.7 403.4H749.3V415.4H735.7Z"/>
<path class="l" d="M736.6 404.29999999999995H748.4V414.5H736.6Z"/>
<path class="kk" d="M735.1 403.4L738.7 403.4"/>
<path class="kk" d="M746.3 403.4L749.9 403.4"/>
<path class="l" d="M701.4 416.8L752 416.8"/>
<path class="l" d="M701.4 402L752 402"/>
<path class="t" d="M197.8 131.5V164M199.6 131.5V133"/>
<path class="t" d="M198.2 132.4h-5.6A5.6 5.6 0 0 0 198.2 138.0"/>
<path class="t" d="M198.2 144.6h-5.6A5.6 5.6 0 0 1 198.2 139.0"/>
<path class="t" d="M194.7 145H199.5V149.7H194.7Z"/>
<path class="t" d="M198.2 150.2h-5.6A5.6 5.6 0 0 0 198.2 155.79999999999998"/>
<path class="t" d="M198.2 161.8h-5.6A5.6 5.6 0 0 1 198.2 156.20000000000002"/>
<path class="t" d="M198 164H183.5V181.8H186A3.2 3.2 0 0 1 186 188.2H183.5V208.3H198"/>
<path class="l" d="M198 165.1H184.6V180.70000000000002M184.6 189.29999999999998V207.20000000000002H198"/>
<path class="t" d="M198 162V209.3M199.6 168V184M199.6 186V202.3M199.6 168H202.7V162H194M199.6 202.3H202.7V208.3H198"/>
<path class="l" d="M194 170V176H198M194 173H198"/>
<path class="hp" d="M186.7 166.5H194.1L194.1 177.4H186.7Z"/>
<path class="hp" d="M188.3 192.5H195.7L195.7 204.3H188.3Z"/>
<path class="t" d="M198.2 208.6h-5.4A5.4 5.4 0 0 0 198.2 214.0"/>
<path class="t" d="M198.2 219.2h-5.4A5.4 5.4 0 0 1 198.2 213.79999999999998"/>
<path class="t" d="M193 219.3H200.3V228H193Z"/>
<path class="l" d="M194.4 220.8H198.9V226.5H194.4Z"/>
<path class="t" d="M198.2 228.2h-5.4A5.4 5.4 0 0 0 198.2 233.6"/>
<path class="t" d="M198.2 238.8h-5.4A5.4 5.4 0 0 1 198.2 233.4"/>
<path class="t" d="M198 208L198 239"/>
<path class="t" d="M198 239H183.5V256.8H186A3.2 3.2 0 0 1 186 263.2H183.5V283.3H198"/>
<path class="l" d="M198 240.1H184.6V255.70000000000002M184.6 264.3V282.2H198"/>
<path class="t" d="M198 237V284.3M199.6 243V259M199.6 261V277.3M199.6 243H202.7V237H194M199.6 277.3H202.7V283.3H198"/>
<path class="l" d="M194 245V251H198M194 248H198"/>
<path class="hp" d="M188.3 241.5H195.7L195.7 252.4H188.3Z"/>
<path class="hp" d="M185.6 267.5H193.0L193.0 279.3H185.6Z"/>
<path class="m" d="M198 283.3V290M199.6 277V290M191.6 283.3V290M191.6 290H199.6"/>
<path class="t" d="M655.7 126.4H659.7V132H655.7Z"/>
<path class="t" d="M659 132V138.5"/>
<path class="t" d="M659.2 138.5h7.599999999999994A7.599999999999994 7.599999999999994 0 0 1 659.2 146.1A7.599999999999994 7.599999999999994 0 0 1 666.8000000000001 153.7H659.2"/>
<path class="t" d="M659 153.7V162"/>
<path class="t" d="M659.6 164H674.1V181.8H671.6A3.2 3.2 0 0 0 671.6 188.2H674.1V208.3H659.6"/>
<path class="l" d="M659.6 165.1H673.0V180.70000000000002M673.0 189.29999999999998V207.20000000000002H659.6"/>
<path class="t" d="M659.6 162V209.3M658.0 168V184M658.0 186V202.3M658.0 168H654.9V162H663.6M658.0 202.3H654.9V208.3H659.6"/>
<path class="l" d="M663.6 170V176H659.6M663.6 173H659.6"/>
<path class="hp" d="M663.5 166.5H670.9L670.9 177.4H663.5Z"/>
<path class="hp" d="M661.9 192.5H669.3L669.3 204.3H661.9Z"/>
<path class="t" d="M659.4 208.6h5.4A5.4 5.4 0 0 1 659.4 214.0"/>
<path class="t" d="M659.4 219.2h5.4A5.4 5.4 0 0 0 659.4 213.79999999999998"/>
<path class="t" d="M657.6 218.6H664.6V227.3H657.6Z"/>
<path class="l" d="M659 220H663.2V225.9H659Z"/>
<path class="t" d="M659.4 228.2h5.4A5.4 5.4 0 0 1 659.4 233.6"/>
<path class="t" d="M659.4 238.8h5.4A5.4 5.4 0 0 0 659.4 233.4"/>
<path class="t" d="M659.4 208L659.4 239"/>
<path class="t" d="M659.6 239H674.1V256.8H671.6A3.2 3.2 0 0 0 671.6 263.2H674.1V283.3H659.6"/>
<path class="l" d="M659.6 240.1H673.0V255.70000000000002M673.0 264.3V282.2H659.6"/>
<path class="t" d="M659.6 237V284.3M658.0 243V259M658.0 261V277.3M658.0 243H654.9V237H663.6M658.0 277.3H654.9V283.3H659.6"/>
<path class="l" d="M663.6 245V251H659.6M663.6 248H659.6"/>
<path class="hp" d="M661.9 241.5H669.3L669.3 252.4H661.9Z"/>
<path class="hp" d="M664.6 267.5H672.0L672.0 279.3H664.6Z"/>
<path class="t" d="M659.4 283.3V290M665.8 283.3V290"/>
<path class="m" d="M191.6 362V392.5H226.2V389.5H193.4V362M207.6 371.6V389.5"/>
<path class="t" d="M192 365H198.6V371.6H192Z"/>
<path class="t" d="M226.2 389.5V386L222.6 385L224.6 382L219.8 380.5L224.7 377.6"/>
<path class="t" d="M224.7 377.6H226.4M243.6 377.6H250.4M264 377.6H268.7"/>
<path class="t" d="M226.4 377.6v-4.200000000000003A4.200000000000003 4.200000000000003 0 0 1 230.60000000000002 377.6A4.200000000000003 4.200000000000003 0 0 1 234.8 373.40000000000003V377.6"/>
<path class="t" d="M235.2 377.6v-4.200000000000003A4.200000000000003 4.200000000000003 0 0 1 239.39999999999998 377.6A4.200000000000003 4.200000000000003 0 0 1 243.6 373.40000000000003V377.6"/>
<path class="t" d="M244 371H250V377.6H244Z"/>
<path class="t" d="M250.4 377.6v-3.299999999999997A3.299999999999997 3.299999999999997 0 0 1 253.7 377.6A3.299999999999997 3.299999999999997 0 0 1 257 374.3V377.6"/>
<path class="t" d="M257.4 377.6v-3.3000000000000114A3.3000000000000114 3.3000000000000114 0 0 1 260.7 377.6A3.3000000000000114 3.3000000000000114 0 0 1 264 374.3V377.6"/>
<path class="t" d="M264.2 362H271V366H264.2Z"/>
<path class="t" d="M264.2 366V377.6H268.7"/>
<path class="t" d="M299.3 365.3H268.7V391.6H299.3M299.3 365.3V376.4M299.3 381.6V391.6"/>
<path class="t" d="M299.3 376.4A3 3 0 0 0 299.3 381.6"/>
<circle class="t" cx="292.7" cy="367.3" r="1.4"/>
<path class="l" d="M268.7 390.40000000000003L299.3 390.40000000000003"/>
<path class="hp" d="M273.2 372H287.3L285.3 379.2H271.2Z"/>
<path class="hp" d="M273.2 381.7H287.3L285.3 389H271.2Z"/>
<path class="t" d="M296.3 365.7H303.7V378.3H296.3ZM296.3 385.6H303.7V391.7H296.3"/>
<path class="l" d="M300.3 365.6H303.7V378.3H300.3Z"/>
<path class="l" d="M316.6 365.6H320V378.3H316.6Z"/>
<path class="l" d="M300.3 385.6H303.7V391.7H300.3Z"/>
<path class="l" d="M316.6 385.6H320V391.7H316.6Z"/>
<path class="l" d="M303.7 378.3v-6.450000000000017A6.450000000000017 6.450000000000017 0 0 1 310.15 378.3A6.450000000000017 6.450000000000017 0 0 1 316.6 371.85V378.3"/>
<path class="l" d="M303.7 391.7v-6.450000000000017A6.450000000000017 6.450000000000017 0 0 1 310.15 391.7A6.450000000000017 6.450000000000017 0 0 1 316.6 385.25V391.7"/>
<path class="l" d="M303.7 378.3L310.15 381.8L316.6 378.3M303.7 385.6L310.15 382L316.6 385.6"/>
<path class="t" d="M320 365.3H348.5V391.6H320M320 365.3V376.4M320 381.6V391.6"/>
<path class="t" d="M320 376.4A3 3 0 0 1 320 381.6"/>
<circle class="t" cx="324.6" cy="367.1" r="1.4"/>
<path class="l" d="M320 390.40000000000003L348.5 390.40000000000003"/>
<path class="hp" d="M329.8 372H342.7L344.7 379.2H331.8Z"/>
<path class="hp" d="M329.8 381.7H342.7L344.7 389H331.8Z"/>
<path class="t" d="M348.5 362.7H357.4V376.8H348.5Z"/>
<path class="t" d="M348.5 366.4H353V376.8M357.4 376.8V378.3"/>
<path class="t" d="M358.6 378.3v-5.699999999999989A5.699999999999989 5.699999999999989 0 0 1 364.3 378.3A5.699999999999989 5.699999999999989 0 0 1 370 372.6V378.3"/>
<path class="t" d="M373.8 378.3v-5.599999999999994A5.599999999999994 5.599999999999994 0 0 1 379.4 378.3A5.599999999999994 5.599999999999994 0 0 1 385 372.70000000000005V378.3"/>
<rect class="h" x="370.4" y="372.1" width="3.0" height="6.2"/>
<path class="t" d="M370 371.7H373.8V378.3H370Z"/>
<path class="t" d="M385.7 362.7H395.4V376.8H385.7Z"/>
<path class="t" d="M395.4 366.4H390.6V376.8"/>
<path class="t" d="M423 365.3H395.4V391.6H423M423 365.3V376.4M423 381.6V391.6"/>
<path class="t" d="M423 376.4A3 3 0 0 0 423 381.6"/>
<circle class="t" cx="416.4" cy="367.3" r="1.4"/>
<path class="l" d="M395.4 390.40000000000003L423 390.40000000000003"/>
<path class="hp" d="M400.4 372H414L412 379.2H398.4Z"/>
<path class="hp" d="M400.4 381.7H414L412 389H398.4Z"/>
<path class="l" d="M421 365.6H424.4V378.3H421Z"/>
<path class="l" d="M434.20000000000005 365.6H437.6V378.3H434.20000000000005Z"/>
<path class="l" d="M421 385.6H424.4V391.7H421Z"/>
<path class="l" d="M434.20000000000005 385.6H437.6V391.7H434.20000000000005Z"/>
<path class="l" d="M424.4 378.3v-4.900000000000034A4.900000000000034 4.900000000000034 0 0 1 429.3 378.3A4.900000000000034 4.900000000000034 0 0 1 434.20000000000005 373.4V378.3"/>
<path class="l" d="M424.4 391.7v-4.900000000000034A4.900000000000034 4.900000000000034 0 0 1 429.3 391.7A4.900000000000034 4.900000000000034 0 0 1 434.20000000000005 386.79999999999995V391.7"/>
<path class="l" d="M424.4 378.3L429.3 381.8L434.20000000000005 378.3M424.4 385.6L429.3 382L434.20000000000005 385.6"/>
<path class="t" d="M436.4 365.3H461.7V391.6H436.4M436.4 365.3V376.4M436.4 381.6V391.6"/>
<path class="t" d="M436.4 376.4A3 3 0 0 1 436.4 381.6"/>
<circle class="t" cx="441.0" cy="367.1" r="1.4"/>
<path class="l" d="M436.4 390.40000000000003L461.7 390.40000000000003"/>
<path class="hp" d="M444.6 372H458.3L460.3 379.2H446.6Z"/>
<path class="hp" d="M444.6 381.7H458.3L460.3 389H446.6Z"/>
<path class="t" d="M456.5 362.7H464V366.4H456.5Z"/>
<path class="t" d="M451.3 366.4H457.3V371.6H451.3Z"/>
<path class="t" d="M461.7 371.6H464V378.3"/>
<path class="t" d="M464.4 378.3v-5.800000000000011A5.800000000000011 5.800000000000011 0 0 1 470.2 378.3A5.800000000000011 5.800000000000011 0 0 1 476 372.5V378.3"/>
<path class="t" d="M479 378.3v-6.099999999999994A6.099999999999994 6.099999999999994 0 0 1 485.1 378.3A6.099999999999994 6.099999999999994 0 0 1 491.2 372.20000000000005V378.3"/>
<rect class="h" x="476.4" y="372.1" width="2.2" height="6.2"/>
<path class="t" d="M476 371.7H479V378.3H476Z"/>
<path class="t" d="M491.6 362H497.6V365H491.6Z"/>
<path class="t" d="M539.3 365.3H491.6V391.6H539.3M539.3 365.3V376.4M539.3 381.6V391.6"/>
<path class="t" d="M539.3 376.4A3 3 0 0 0 539.3 381.6"/>
<circle class="t" cx="532.6999999999999" cy="367.3" r="1.4"/>
<path class="l" d="M491.6 390.40000000000003L539.3 390.40000000000003"/>
<path class="hp" d="M516.7 372H530.3L528.3 379.2H514.7Z"/>
<path class="hp" d="M516.7 381.7H530.3L528.3 389H514.7Z"/>
<path class="m" d="M510.2 365L510.2 391.7"/>
<path class="t" d="M503.5 365.7H509.4V371.6H503.5Z"/>
<path class="t" d="M508.6 371.6L508.6 379"/>
<path class="l" d="M537.6 365.6H541.0V378.3H537.6Z"/>
<path class="l" d="M554.2 365.6H557.6V378.3H554.2Z"/>
<path class="l" d="M537.6 385.6H541.0V391.7H537.6Z"/>
<path class="l" d="M554.2 385.6H557.6V391.7H554.2Z"/>
<path class="l" d="M541.0 378.3v-6.600000000000023A6.600000000000023 6.600000000000023 0 0 1 547.6 378.3A6.600000000000023 6.600000000000023 0 0 1 554.2 371.7V378.3"/>
<path class="l" d="M541.0 391.7v-6.600000000000023A6.600000000000023 6.600000000000023 0 0 1 547.6 391.7A6.600000000000023 6.600000000000023 0 0 1 554.2 385.09999999999997V391.7"/>
<path class="l" d="M541.0 378.3L547.6 381.8L554.2 378.3M541.0 385.6L547.6 382L554.2 385.6"/>
<path class="t" d="M561.6 365.3H588.4V391.6H561.6M561.6 365.3V376.4M561.6 381.6V391.6"/>
<path class="t" d="M561.6 376.4A3 3 0 0 1 561.6 381.6"/>
<circle class="t" cx="566.2" cy="367.1" r="1.4"/>
<path class="l" d="M561.6 390.40000000000003L588.4 390.40000000000003"/>
<path class="hp" d="M570.6 372H584.2L586.2 379.2H572.6Z"/>
<path class="hp" d="M570.6 381.7H584.2L586.2 389H572.6Z"/>
<path class="t" d="M554 365.7H561.6"/>
<path class="t" d="M587 362.7H593V377.6H587Z"/>
<path class="t" d="M593.6 377.6v-6.0A6.0 6.0 0 0 1 599.6 377.6A6.0 6.0 0 0 1 605.6 371.6V377.6"/>
<path class="t" d="M606.3 363.4H613.8V377.6H606.3Z"/>
<path class="l" d="M607.6 366H612.6V376.4H607.6Z"/>
<path class="t" d="M614.4 377.6v-5.100000000000023A5.100000000000023 5.100000000000023 0 0 1 619.5 377.6A5.100000000000023 5.100000000000023 0 0 1 624.6 372.5V377.6"/>
<rect class="h" x="625" y="371.4" width="2.2" height="6.2"/>
<path class="t" d="M625 371.4H627.2V377.6H625Z"/>
<path class="t" d="M627.2 377.6H631"/>
<path class="m" d="M631 372.4V385M631 390V392.5H664.6V370.9M633.2 372.4V385M637.6 389.5H663V370.9M631 385H637.6V389.5"/>
<path class="d" d="M45 435.3H98.2"/>
<path class="m" d="M98.2 421.9H104.9V428.6H98.2Z"/>
<path class="l" d="M98.2 428.6V435.6H104.9V428.6"/>
<path class="m" d="M141.1 421.9H147.79999999999998V428.6H141.1Z"/>
<path class="l" d="M141.1 428.6V435.6H147.79999999999998V428.6"/>
<path class="m" d="M192.8 421.9H199.5V428.6H192.8Z"/>
<path class="l" d="M192.8 428.6V435.6H199.5V428.6"/>
<path class="m" d="M244.3 421.9H251.0V428.6H244.3Z"/>
<path class="l" d="M244.3 428.6V435.6H251.0V428.6"/>
<path class="m" d="M296.3 421.9H303.0V428.6H296.3Z"/>
<path class="l" d="M296.3 428.6V435.6H303.0V428.6"/>
<path class="m" d="M348 421.9H354.7V428.6H348Z"/>
<path class="l" d="M348 428.6V435.6H354.7V428.6"/>
<path class="m" d="M399.3 421.9H406.0V428.6H399.3Z"/>
<path class="l" d="M399.3 428.6V435.6H406.0V428.6"/>
<path class="m" d="M451.5 421.9H458.2V428.6H451.5Z"/>
<path class="l" d="M451.5 428.6V435.6H458.2V428.6"/>
<path class="m" d="M503 421.9H509.7V428.6H503Z"/>
<path class="l" d="M503 428.6V435.6H509.7V428.6"/>
<path class="m" d="M554.3 421.9H561.0V428.6H554.3Z"/>
<path class="l" d="M554.3 428.6V435.6H561.0V428.6"/>
<path class="m" d="M606.7 421.9H613.4000000000001V428.6H606.7Z"/>
<path class="l" d="M606.7 428.6V435.6H613.4000000000001V428.6"/>
<path class="m" d="M658.4 421.9H665.1V428.6H658.4Z"/>
<path class="l" d="M658.4 428.6V435.6H665.1V428.6"/>
<path class="d" d="M104.9 432.2H141.1M147.79999999999998 432.2H192.8M199.5 432.2H244.3M251.0 432.2H296.3M303.0 432.2H348M354.7 432.2H399.3M406.0 432.2H451.5M458.2 432.2H503M509.7 432.2H554.3M561.0 432.2H606.7M613.4000000000001 432.2H658.4M665.1 432.2H765.6"/>
<path class="d" d="M765.8 432.2V452"/>
<circle cx="40.5" cy="480.2" r="2.8" fill="#fff" stroke="#5a5a5a" stroke-width=".8"/>
<circle cx="95" cy="480.2" r="2.8" fill="#fff" stroke="#5a5a5a" stroke-width=".8"/>
<circle cx="144.2" cy="480.2" r="2.8" fill="#fff" stroke="#5a5a5a" stroke-width=".8"/>
<circle cx="196" cy="480.2" r="2.8" fill="#fff" stroke="#5a5a5a" stroke-width=".8"/>
<circle cx="247.5" cy="480.2" r="2.8" fill="#fff" stroke="#5a5a5a" stroke-width=".8"/>
<rect x="294.3" y="478.2" width="10.1" height="5.6" rx="2.8" fill="#fff" stroke="#5a5a5a" stroke-width=".8"/>
<path class="l" d="M296.90000000000003 478.4V483.6M301.8 478.4V483.6"/>
<rect x="346" y="478.2" width="10.1" height="5.6" rx="2.8" fill="#fff" stroke="#5a5a5a" stroke-width=".8"/>
<path class="l" d="M348.6 478.4V483.6M353.5 478.4V483.6"/>
<rect x="398" y="478.2" width="10.1" height="5.6" rx="2.8" fill="#fff" stroke="#5a5a5a" stroke-width=".8"/>
<path class="l" d="M400.6 478.4V483.6M405.5 478.4V483.6"/>
<rect x="449.2" y="478.2" width="10.1" height="5.6" rx="2.8" fill="#fff" stroke="#5a5a5a" stroke-width=".8"/>
<path class="l" d="M451.8 478.4V483.6M456.7 478.4V483.6"/>
<rect x="500.6" y="478.2" width="10.1" height="5.6" rx="2.8" fill="#fff" stroke="#5a5a5a" stroke-width=".8"/>
<path class="l" d="M503.20000000000005 478.4V483.6M508.1 478.4V483.6"/>
<rect x="553" y="478.2" width="10.1" height="5.6" rx="2.8" fill="#fff" stroke="#5a5a5a" stroke-width=".8"/>
<path class="l" d="M555.6 478.4V483.6M560.5 478.4V483.6"/>
<rect x="604.8" y="478.2" width="10.1" height="5.6" rx="2.8" fill="#fff" stroke="#5a5a5a" stroke-width=".8"/>
<path class="l" d="M607.4 478.4V483.6M612.3 478.4V483.6"/>
<rect x="656.5" y="478.2" width="10.1" height="5.6" rx="2.8" fill="#fff" stroke="#5a5a5a" stroke-width=".8"/>
<path class="l" d="M659.1 478.4V483.6M664.0 478.4V483.6"/>
<rect x="708.5" y="478.2" width="10.1" height="5.6" rx="2.8" fill="#fff" stroke="#5a5a5a" stroke-width=".8"/>
<path class="l" d="M711.1 478.4V483.6M716.0 478.4V483.6"/>
<rect x="757.7" y="478.2" width="10.1" height="5.6" rx="2.8" fill="#fff" stroke="#5a5a5a" stroke-width=".8"/>
<path class="l" d="M760.3000000000001 478.4V483.6M765.2 478.4V483.6"/>
<path class="m" d="M95.3 441.7H178V467.2H95.3Z"/>
<path class="l" d="M96.3 442.7H177V466.2H96.3Z"/>
<path class="m" d="M138 444.4H177M138 453.6H177M138 456.2H177M138 464.8H177"/>
<path class="t" d="M140 446.4H176M140 452.2H176M140 458H176M140 463.4H176"/>
<path class="l" d="M141.0 446.4V452.2M141.0 458V463.4M142.9 446.4V452.2M142.9 458V463.4M144.8 446.4V452.2M144.8 458V463.4M146.7 446.4V452.2M146.7 458V463.4M148.6 446.4V452.2M148.6 458V463.4M150.5 446.4V452.2M150.5 458V463.4M152.4 446.4V452.2M152.4 458V463.4M154.3 446.4V452.2M154.3 458V463.4M156.2 446.4V452.2M156.2 458V463.4M158.1 446.4V452.2M158.1 458V463.4M160.0 446.4V452.2M160.0 458V463.4M161.9 446.4V452.2M161.9 458V463.4M163.8 446.4V452.2M163.8 458V463.4M165.7 446.4V452.2M165.7 458V463.4M167.6 446.4V452.2M167.6 458V463.4M169.5 446.4V452.2M169.5 458V463.4M171.4 446.4V452.2M171.4 458V463.4M173.3 446.4V452.2M173.3 458V463.4"/>
<path class="l" d="M142 449.3H174M142 460.7H174"/>
<path class="l" d="M177 444.6H185.9V464.2H177ZM177 454.2H185.9"/>
<path class="m" d="M576.4 441.7H660.9V467.2H576.4Z"/>
<path class="l" d="M577.4 442.7H659.9V466.2H577.4Z"/>
<path class="m" d="M577.7 444.4H616.1M577.7 453.6H616.1M577.7 456.2H616.1M577.7 464.8H616.1"/>
<path class="t" d="M579.7 446.4H615.1M579.7 452.2H615.1M579.7 458H615.1M579.7 463.4H615.1"/>
<path class="l" d="M580.7 446.4V452.2M580.7 458V463.4M582.6 446.4V452.2M582.6 458V463.4M584.5 446.4V452.2M584.5 458V463.4M586.4 446.4V452.2M586.4 458V463.4M588.3 446.4V452.2M588.3 458V463.4M590.2 446.4V452.2M590.2 458V463.4M592.1 446.4V452.2M592.1 458V463.4M594.0 446.4V452.2M594.0 458V463.4M595.9 446.4V452.2M595.9 458V463.4M597.8 446.4V452.2M597.8 458V463.4M599.7 446.4V452.2M599.7 458V463.4M601.6 446.4V452.2M601.6 458V463.4M603.5 446.4V452.2M603.5 458V463.4M605.4 446.4V452.2M605.4 458V463.4M607.3 446.4V452.2M607.3 458V463.4M609.2 446.4V452.2M609.2 458V463.4M611.1 446.4V452.2M611.1 458V463.4M613.0 446.4V452.2M613.0 458V463.4"/>
<path class="l" d="M581.7 449.3H613.1M581.7 460.7H613.1"/>
<path class="l" d="M568.2 444.6H577.2V464.2H568.2ZM568.2 454.2H577.2"/>
<path class="t" d="M766 418.8L781 430.3L777.8 435.3L784.2 436.6L782.3 441.6L788.6 440.6A50 50 0 0 1 797.4 458.6"/>
<path class="t" d="M812.9 427.1H818.6V433H812.9Z"/>
<path class="t" d="M812.9 452.4H818.6V458.3H812.9Z"/>
<path class="m" d="M797.4 458.4H820.2M797.4 460.4H819.6"/>
<path class="t" d="M766.5 452H773V458.3H766.5Z"/>
<path class="d" d="M765.8 458.8H797.4"/>
<path class="t" d="M765.4 458.8V480.6M766.6 458.8V480.6"/>
<path class="t" d="M779.05 459.4A31.4 31.4 0 0 1 755.1 505.06"/>
<path class="l" d="M780.4 459.4A32.6 32.6 0 0 1 755.1 506.27"/>
<path class="l" d="M782.62 459.4A34.6 34.6 0 0 1 755.1 508.28"/>
<path class="m" d="M783.93 459.4A35.8 35.8 0 0 1 755.1 509.49"/>
<path class="m" d="M796.12 459.4A47.2 47.2 0 0 1 755.1 520.94"/>
<path class="l" d="M797.38 459.4A48.4 48.4 0 0 1 755.1 522.14"/>
<path class="l" d="M799.26 459.4A50.2 50.2 0 0 1 755.1 523.95"/>
<path class="m" d="M800.41 459.4A51.3 51.3 0 0 1 755.1 525.05"/>
<path class="l" d="M780.88 493.92L790.33 500.29M779.79 495.44L788.9 502.31M778.62 496.91L787.36 504.24M777.38 498.32L785.72 506.09M776.07 499.65L783.99 507.85M774.69 500.92L782.17 509.52M773.24 502.11L780.26 511.09M771.73 503.23L778.27 512.56M770.17 504.26L776.21 513.93M768.56 505.21L774.08 515.18M766.89 506.08L771.89 516.32M765.19 506.85L769.64 517.35M763.44 507.54L767.34 518.25M761.67 508.14L765.0 519.04M759.86 508.64L762.62 519.7M758.03 509.04L760.21 520.23M756.18 509.35L757.77 520.64M787.73 463.43L796.57 460.89M788.23 465.35L797.19 463.28M788.62 467.3L797.68 465.7M788.92 469.27L798.05 468.15M789.11 471.25L798.29 470.61"/>
<path class="l" d="M797.37 464.09L801.38 463.23M781.91 467.37L786.22 466.46M798.39 474.72L802.49 474.8M782.6 474.45L786.99 474.52M797.0 485.32L800.98 486.31M781.67 481.5L785.94 482.56M793.26 495.33L796.91 497.19M779.18 488.16L783.1 490.15M787.36 504.24L790.5 506.88M775.25 494.08L778.62 496.91M779.61 511.6L782.07 514.87M770.1 498.98L772.74 502.49M770.4 517.02L772.07 520.76M763.97 502.59L765.76 506.6M760.21 520.23L760.99 524.26M757.19 504.72L758.03 509.04"/>
<path class="m" d="M755 494V524.6M754 505.4H756M754 516H756"/>
<path class="m" d="M778.4 459.4L784 459.4M796 459.4H801.6"/>
<circle class="t" cx="703.4" cy="275.1" r="4.4"/>
<path class="l" d="M700.8 272.4H706.0V277.8H700.8Z"/>
<circle class="t" cx="750.5" cy="275.1" r="4.4"/>
<path class="l" d="M747.9 272.4H753.1V277.8H747.9Z"/>
</g>
<g id="labels">
<text class="tiny" x="397.5" y="67.4" font-size="3.4" textLength="15.0" lengthAdjust="spacingAndGlyphs">AV/ELEC</text>
<text class="tiny" x="444.4" y="67.4" font-size="3.4" textLength="15.0" lengthAdjust="spacingAndGlyphs">AV/ELEC</text>
<text class="lb" x="243.8" y="54.8" font-size="7.2" textLength="56.7" lengthAdjust="spacingAndGlyphs">SERVICE CORRIDOR</text>
<text class="lb" x="556.3" y="54.8" font-size="7.2" textLength="57.0" lengthAdjust="spacingAndGlyphs">SERVICE CORRIDOR</text>
<text class="lb" x="797.8" y="62.5" font-size="6.0" textLength="27.7" lengthAdjust="spacingAndGlyphs">STORAGE</text>
<text class="lb" x="789" y="119.9" font-size="6.0" textLength="22" lengthAdjust="spacingAndGlyphs">PANTRY</text>
<text class="lb" x="711.4" y="154.8" font-size="6.2" textLength="25.9" lengthAdjust="spacingAndGlyphs">FRT.ELEV</text>
<text class="lb bd" x="708.9" y="199.2" font-size="4.2" textLength="37.9" lengthAdjust="spacingAndGlyphs">ELEVATOR LOBBY</text>
<text class="lb" x="789" y="187.4" font-size="6.0" textLength="22" lengthAdjust="spacingAndGlyphs">PANTRY</text>
<text class="lb" x="784.7" y="267.9" font-size="5.6" textLength="21.7" lengthAdjust="spacingAndGlyphs">WOMEN</text>
<text class="lb" x="783.1" y="330.5" font-size="5.6" textLength="12.2" lengthAdjust="spacingAndGlyphs">MEN</text>
<text class="lb" x="46.3" y="159.1" font-size="6.0" textLength="56.7" lengthAdjust="spacingAndGlyphs">BANQUET STORAGE</text>
<text class="lb" x="131.3" y="192.8" font-size="5.8" textLength="43.0" lengthAdjust="spacingAndGlyphs">PRE-FUNCTION</text>
<text class="lb" x="58" y="231.6" font-size="5.6" textLength="22" lengthAdjust="spacingAndGlyphs">WOMEN</text>
<text class="lb" x="110" y="267.9" font-size="5" textLength="7" lengthAdjust="spacingAndGlyphs">RR</text>
<text class="lb" x="55.2" y="286.7" font-size="5.6" textLength="12.0" lengthAdjust="spacingAndGlyphs">MEN</text>
<text class="lb" x="47" y="344.9" font-size="5.3" textLength="15.2" lengthAdjust="spacingAndGlyphs">OFFICE</text>
<text class="lb" x="47" y="362.9" font-size="5.3" textLength="15.2" lengthAdjust="spacingAndGlyphs">OFFICE</text>
<text class="tiny" x="48.3" y="425.7" font-size="3.9" textLength="12.0" lengthAdjust="spacingAndGlyphs">OFFICE</text>
<text class="lb" x="107" y="357.1" font-size="6.3" textLength="49.8" lengthAdjust="spacingAndGlyphs">ELEVATOR LOBBY</text>
<text class="lb" x="107" y="410.6" font-size="6.5" textLength="50" lengthAdjust="spacingAndGlyphs">ELEVATOR LOBBY</text>
<text class="lb" x="701.6" y="394.6" font-size="6.5" textLength="50.0" lengthAdjust="spacingAndGlyphs">ELEVATOR LOBBY</text>
<text class="lb" x="303" y="415" font-size="4.7" textLength="41.8" lengthAdjust="spacingAndGlyphs">9'10&quot; CEILING LIMIT</text>
<text class="lb" x="492.3" y="415" font-size="4.7" textLength="41.2" lengthAdjust="spacingAndGlyphs">9'10&quot; CEILING LIMIT</text>
<text class="lb" x="408.5" y="411.3" font-size="5.6" textLength="41.8" lengthAdjust="spacingAndGlyphs">PRE-FUNCTION</text>
<text class="lb" x="99.8" y="457.8" font-size="6.2" textLength="33.7" lengthAdjust="spacingAndGlyphs">ESCALATOR</text>
<text class="lb" x="619.9" y="457.8" font-size="6.2" textLength="33.5" lengthAdjust="spacingAndGlyphs">ESCALATOR</text>
<text class="tiny" x="179.2" y="451" font-size="2.6" textLength="5.2" lengthAdjust="spacingAndGlyphs">ATG</text>
<text class="tiny" x="179.2" y="460.6" font-size="2.6" textLength="5.2" lengthAdjust="spacingAndGlyphs">ATG</text>
<text class="tiny" x="569.6" y="451" font-size="2.6" textLength="5.4" lengthAdjust="spacingAndGlyphs">ATG</text>
<text class="tiny" x="569.6" y="460.6" font-size="2.6" textLength="5.4" lengthAdjust="spacingAndGlyphs">ATG</text>
<text class="lb" x="40.8" y="496.3" font-size="8.7" textLength="114.2" lengthAdjust="spacingAndGlyphs">BALLROOM CEILING LIMIT 28'</text>
</g>
<g id="zones">
<rect class="ov" x="14.2" y="109.8" width="421.1" height="433.8" fill="#cbecfd"/>
<rect class="ov" x="435.3" y="109.8" width="421.2" height="433.8" fill="#d3ecdd"/>
</g>
<g id="title">
<text class="big" x="404.2" y="217.2" textLength="44.2" lengthAdjust="spacingAndGlyphs">Lanier</text>
<text class="big" y="237.1"><tspan x="370.4" textLength="41.5" lengthAdjust="spacingAndGlyphs">Grand</tspan> <tspan x="416.9" textLength="65" lengthAdjust="spacingAndGlyphs">Ballroom</tspan></text>
</g>
<g id="badges">
<circle cx="225" cy="326.5" r="47.3" fill="#fd9932" stroke="#fff" stroke-width=".8"/>
<circle cx="646.1" cy="326.5" r="47.3" fill="#fd9932" stroke="#fff" stroke-width=".8"/>
<text class="zone" y="340.9" font-size="47.8"><tspan x="186.6" textLength="23.9" lengthAdjust="spacingAndGlyphs">L</tspan><tspan x="212.1" textLength="25.25" lengthAdjust="spacingAndGlyphs">4</tspan><tspan x="237.4" textLength="25.8" lengthAdjust="spacingAndGlyphs">A</tspan></text>
<text class="zone" y="340.9" font-size="47.8"><tspan x="607.2" textLength="23.9" lengthAdjust="spacingAndGlyphs">L</tspan><tspan x="632.9" textLength="25.25" lengthAdjust="spacingAndGlyphs">4</tspan><tspan x="659.4" textLength="25.2" lengthAdjust="spacingAndGlyphs">B</tspan></text>
</g>
</svg>
</body>
</html>
